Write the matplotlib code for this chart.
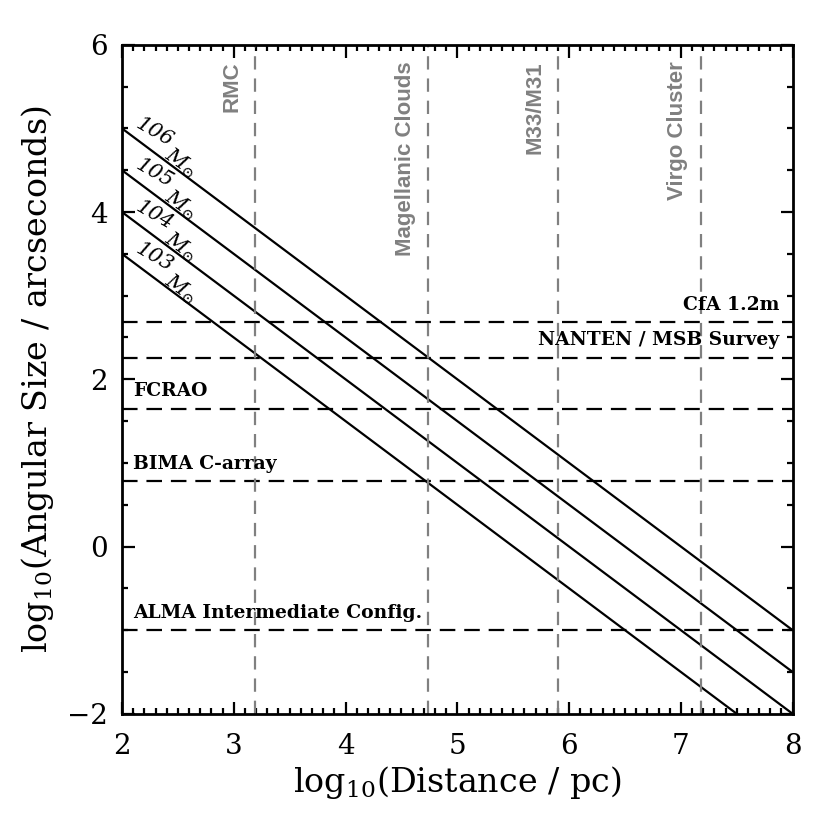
import numpy as np
import matplotlib
matplotlib.use("Agg")
import matplotlib.pyplot as plt
from matplotlib.ticker import MultipleLocator

plt.rcParams["font.family"] = "DejaVu Serif"
plt.rcParams["mathtext.fontset"] = "dejavuserif"

# cloud mass lines: log10(size) = intercept - log10(distance)
mass_labels = ["106", "105", "104", "103"]
mass_intercepts = [7.0, 6.5, 6.0, 5.5]

# telescope resolutions (log10 arcsec)
res_names = ["CfA 1.2m", "NANTEN / MSB Survey", "FCRAO", "BIMA C-array",
             "ALMA Intermediate Config."]
res_values = [2.68, 2.26, 1.65, 0.78, -1.0]
res_side = ["right", "right", "left", "left", "left"]

# reference distances (log10 pc)
dist_names = ["RMC", "Magellanic Clouds", "M33/M31", "Virgo Cluster"]
dist_values = [3.19, 4.74, 5.90, 7.18]

XMIN, XMAX, YMIN, YMAX = 2, 8, -2, 6
GRAY = "#808080"

fig = plt.figure(figsize=(8.3, 8.3), dpi=100)
ax = fig.add_axes([0.147, 0.140, 0.808, 0.806])

x = np.array([XMIN, XMAX])
for lab, b in zip(mass_labels, mass_intercepts):
    ax.plot(x, b - x, color="black", lw=1.6, solid_capstyle="butt")
    ax.text(2.29, b - 2.29 + 0.25, lab, fontsize=15, style="italic",
            rotation=-30, ha="center", va="center")
    ax.text(2.52, b - 2.52 + 0.1, r"M$_{\odot}$", fontsize=15, style="italic",
            rotation=-36, ha="center", va="center")

for name, v, side in zip(res_names, res_values, res_side):
    ax.axhline(v, color="black", lw=1.6, dashes=(7, 4))
    if side == "right":
        ax.annotate(name, (XMAX, v), xytext=(-9.5, 6), textcoords="offset points",
                    ha="right", va="bottom", fontsize=13.5, fontweight="bold")
    else:
        ax.annotate(name, (XMIN, v), xytext=(8, 6), textcoords="offset points",
                    ha="left", va="bottom", fontsize=13.5, fontweight="bold")

for name, v in zip(dist_names, dist_values):
    ax.axvline(v, color=GRAY, lw=1.6, dashes=(6, 4))
    ax.annotate(name, (v, 5.80), xytext=(-9, 0), textcoords="offset points",
                rotation=90, ha="right", va="top", fontsize=16,
                fontweight="bold", color=GRAY, family="Liberation Sans")

ax.set_xlim(XMIN, XMAX)
ax.set_ylim(YMIN, YMAX)
ax.xaxis.set_major_locator(MultipleLocator(1))
ax.xaxis.set_minor_locator(MultipleLocator(0.1))
ax.yaxis.set_major_locator(MultipleLocator(2))
ax.yaxis.set_minor_locator(MultipleLocator(0.5))
ax.tick_params(which="both", direction="in", top=True, right=True, width=1.6)
ax.tick_params(which="major", length=9, labelsize=20)
ax.tick_params(axis="x", which="major", pad=14)
ax.tick_params(axis="y", which="major", pad=10)
ax.tick_params(which="minor", length=4.5)
ax.set_yticks([-2, 0, 2, 4, 6])
ax.set_yticklabels(["\u22122", "0", "2", "4", "6"])
for s in ax.spines.values():
    s.set_linewidth(2)

ax.set_xlabel(r"log$_{10}$(Distance / pc)", fontsize=24, labelpad=3)
ax.set_ylabel(r"log$_{10}$(Angular Size / arcseconds)", fontsize=24, labelpad=8)

fig.savefig("out.png", dpi=100)
